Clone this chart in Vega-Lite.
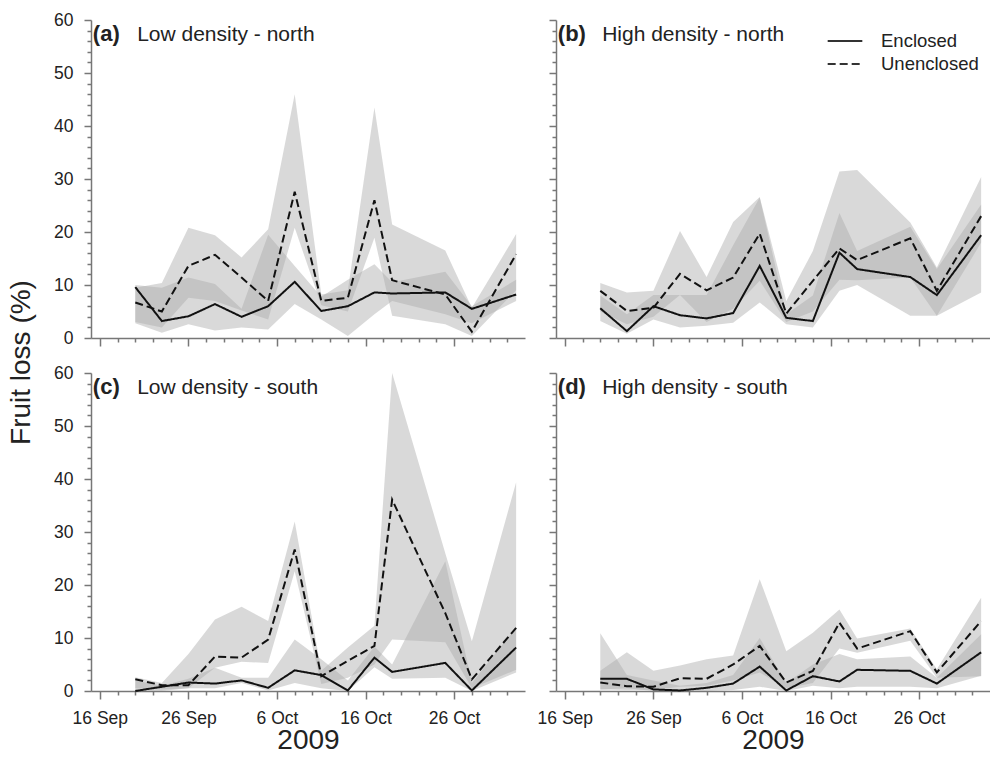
{
  "$schema": "https://vega.github.io/schema/vega-lite/v6.json",
  "padding": {"left": 7, "top": 11, "right": 0, "bottom": 0},
  "background": "white",
  "bounds": "flush",
  "columns": 2,
  "spacing": {"row": 35, "column": 31},
  "datasets": {
    "series": [
      {"p":"a","d":"2009-09-20","g":"Enclosed","v":9.6,"lo":2.8,"hi":10.0},
      {"p":"a","d":"2009-09-23","g":"Enclosed","v":3.2,"lo":1.0,"hi":9.5},
      {"p":"a","d":"2009-09-26","g":"Enclosed","v":4.1,"lo":2.6,"hi":11.4},
      {"p":"a","d":"2009-09-29","g":"Enclosed","v":6.4,"lo":1.4,"hi":10.2},
      {"p":"a","d":"2009-10-02","g":"Enclosed","v":4.0,"lo":2.0,"hi":5.5},
      {"p":"a","d":"2009-10-05","g":"Enclosed","v":6.0,"lo":1.6,"hi":19.5},
      {"p":"a","d":"2009-10-08","g":"Enclosed","v":10.6,"lo":6.4,"hi":13.6},
      {"p":"a","d":"2009-10-11","g":"Enclosed","v":5.1,"lo":3.5,"hi":7.8},
      {"p":"a","d":"2009-10-14","g":"Enclosed","v":6.0,"lo":0.4,"hi":11.0},
      {"p":"a","d":"2009-10-17","g":"Enclosed","v":8.6,"lo":4.5,"hi":13.9},
      {"p":"a","d":"2009-10-19","g":"Enclosed","v":8.4,"lo":7.0,"hi":10.5},
      {"p":"a","d":"2009-10-25","g":"Enclosed","v":8.6,"lo":4.5,"hi":12.5},
      {"p":"a","d":"2009-10-28","g":"Enclosed","v":5.5,"lo":2.8,"hi":6.0},
      {"p":"a","d":"2009-11-02","g":"Enclosed","v":8.2,"lo":7.0,"hi":11.0},
      {"p":"a","d":"2009-09-20","g":"Unenclosed","v":6.7,"lo":3.0,"hi":9.5},
      {"p":"a","d":"2009-09-23","g":"Unenclosed","v":5.0,"lo":2.0,"hi":10.4},
      {"p":"a","d":"2009-09-26","g":"Unenclosed","v":13.6,"lo":7.6,"hi":20.8},
      {"p":"a","d":"2009-09-29","g":"Unenclosed","v":15.7,"lo":7.0,"hi":19.4},
      {"p":"a","d":"2009-10-02","g":"Unenclosed","v":11.4,"lo":5.2,"hi":15.2},
      {"p":"a","d":"2009-10-05","g":"Unenclosed","v":7.0,"lo":3.5,"hi":20.5},
      {"p":"a","d":"2009-10-08","g":"Unenclosed","v":27.6,"lo":20.8,"hi":46.0},
      {"p":"a","d":"2009-10-11","g":"Unenclosed","v":7.0,"lo":6.2,"hi":8.2},
      {"p":"a","d":"2009-10-14","g":"Unenclosed","v":7.6,"lo":5.0,"hi":9.0},
      {"p":"a","d":"2009-10-17","g":"Unenclosed","v":26.0,"lo":18.9,"hi":43.5},
      {"p":"a","d":"2009-10-19","g":"Unenclosed","v":10.9,"lo":4.2,"hi":21.4},
      {"p":"a","d":"2009-10-25","g":"Unenclosed","v":8.2,"lo":2.6,"hi":16.5},
      {"p":"a","d":"2009-10-28","g":"Unenclosed","v":1.2,"lo":0.4,"hi":5.7},
      {"p":"a","d":"2009-11-02","g":"Unenclosed","v":15.8,"lo":9.0,"hi":19.6},
      {"p":"b","d":"2009-09-20","g":"Enclosed","v":5.6,"lo":3.2,"hi":8.0},
      {"p":"b","d":"2009-09-23","g":"Enclosed","v":1.3,"lo":0.8,"hi":4.5},
      {"p":"b","d":"2009-09-26","g":"Enclosed","v":6.0,"lo":3.5,"hi":8.1},
      {"p":"b","d":"2009-09-29","g":"Enclosed","v":4.3,"lo":2.0,"hi":8.1},
      {"p":"b","d":"2009-10-02","g":"Enclosed","v":3.7,"lo":2.3,"hi":8.1},
      {"p":"b","d":"2009-10-05","g":"Enclosed","v":4.7,"lo":2.9,"hi":17.5},
      {"p":"b","d":"2009-10-08","g":"Enclosed","v":13.6,"lo":6.7,"hi":26.5},
      {"p":"b","d":"2009-10-11","g":"Enclosed","v":3.8,"lo":2.6,"hi":4.5},
      {"p":"b","d":"2009-10-14","g":"Enclosed","v":3.2,"lo":2.0,"hi":8.0},
      {"p":"b","d":"2009-10-17","g":"Enclosed","v":16.1,"lo":8.9,"hi":23.6},
      {"p":"b","d":"2009-10-19","g":"Enclosed","v":13.0,"lo":10.0,"hi":16.4},
      {"p":"b","d":"2009-10-25","g":"Enclosed","v":11.5,"lo":4.2,"hi":21.0},
      {"p":"b","d":"2009-10-28","g":"Enclosed","v":8.1,"lo":4.2,"hi":13.0},
      {"p":"b","d":"2009-11-02","g":"Enclosed","v":19.4,"lo":8.6,"hi":25.2},
      {"p":"b","d":"2009-09-20","g":"Unenclosed","v":8.9,"lo":5.0,"hi":10.4},
      {"p":"b","d":"2009-09-23","g":"Unenclosed","v":5.1,"lo":2.6,"hi":8.6},
      {"p":"b","d":"2009-09-26","g":"Unenclosed","v":5.7,"lo":4.0,"hi":8.9},
      {"p":"b","d":"2009-09-29","g":"Unenclosed","v":12.1,"lo":8.1,"hi":20.2},
      {"p":"b","d":"2009-10-02","g":"Unenclosed","v":9.0,"lo":3.0,"hi":11.5},
      {"p":"b","d":"2009-10-05","g":"Unenclosed","v":11.4,"lo":5.5,"hi":21.9},
      {"p":"b","d":"2009-10-08","g":"Unenclosed","v":19.7,"lo":10.8,"hi":26.6},
      {"p":"b","d":"2009-10-11","g":"Unenclosed","v":4.6,"lo":3.0,"hi":7.0},
      {"p":"b","d":"2009-10-14","g":"Unenclosed","v":10.8,"lo":5.0,"hi":16.4},
      {"p":"b","d":"2009-10-17","g":"Unenclosed","v":16.9,"lo":11.0,"hi":31.4},
      {"p":"b","d":"2009-10-19","g":"Unenclosed","v":14.7,"lo":10.9,"hi":31.7},
      {"p":"b","d":"2009-10-25","g":"Unenclosed","v":18.8,"lo":11.4,"hi":21.8},
      {"p":"b","d":"2009-10-28","g":"Unenclosed","v":8.9,"lo":4.2,"hi":13.3},
      {"p":"b","d":"2009-11-02","g":"Unenclosed","v":23.0,"lo":18.0,"hi":30.4},
      {"p":"c","d":"2009-09-20","g":"Enclosed","v":0.0,"lo":0.0,"hi":2.0},
      {"p":"c","d":"2009-09-23","g":"Enclosed","v":0.8,"lo":0.0,"hi":1.0},
      {"p":"c","d":"2009-09-26","g":"Enclosed","v":1.6,"lo":0.5,"hi":2.3},
      {"p":"c","d":"2009-09-29","g":"Enclosed","v":1.4,"lo":0.5,"hi":4.4},
      {"p":"c","d":"2009-10-02","g":"Enclosed","v":2.0,"lo":1.5,"hi":2.5},
      {"p":"c","d":"2009-10-05","g":"Enclosed","v":0.6,"lo":0.1,"hi":2.5},
      {"p":"c","d":"2009-10-08","g":"Enclosed","v":3.9,"lo":1.5,"hi":9.7},
      {"p":"c","d":"2009-10-11","g":"Enclosed","v":3.0,"lo":0.5,"hi":6.0},
      {"p":"c","d":"2009-10-14","g":"Enclosed","v":0.1,"lo":0.0,"hi":2.0},
      {"p":"c","d":"2009-10-17","g":"Enclosed","v":6.3,"lo":4.5,"hi":8.4},
      {"p":"c","d":"2009-10-19","g":"Enclosed","v":3.6,"lo":2.3,"hi":5.0},
      {"p":"c","d":"2009-10-25","g":"Enclosed","v":5.3,"lo":2.5,"hi":24.5},
      {"p":"c","d":"2009-10-28","g":"Enclosed","v":0.1,"lo":0.0,"hi":1.5},
      {"p":"c","d":"2009-11-02","g":"Enclosed","v":8.2,"lo":3.5,"hi":12.0},
      {"p":"c","d":"2009-09-20","g":"Unenclosed","v":2.2,"lo":0.5,"hi":2.6},
      {"p":"c","d":"2009-09-23","g":"Unenclosed","v":1.1,"lo":0.3,"hi":1.5},
      {"p":"c","d":"2009-09-26","g":"Unenclosed","v":1.1,"lo":0.5,"hi":7.0},
      {"p":"c","d":"2009-09-29","g":"Unenclosed","v":6.5,"lo":4.4,"hi":13.5},
      {"p":"c","d":"2009-10-02","g":"Unenclosed","v":6.3,"lo":5.5,"hi":15.9},
      {"p":"c","d":"2009-10-05","g":"Unenclosed","v":9.7,"lo":5.3,"hi":13.2},
      {"p":"c","d":"2009-10-08","g":"Unenclosed","v":26.7,"lo":22.6,"hi":32.0},
      {"p":"c","d":"2009-10-11","g":"Unenclosed","v":2.8,"lo":1.3,"hi":3.8},
      {"p":"c","d":"2009-10-14","g":"Unenclosed","v":5.7,"lo":2.5,"hi":8.2},
      {"p":"c","d":"2009-10-17","g":"Unenclosed","v":8.5,"lo":5.0,"hi":12.3},
      {"p":"c","d":"2009-10-19","g":"Unenclosed","v":36.1,"lo":9.7,"hi":60.0},
      {"p":"c","d":"2009-10-25","g":"Unenclosed","v":14.7,"lo":9.2,"hi":26.0},
      {"p":"c","d":"2009-10-28","g":"Unenclosed","v":2.2,"lo":0.5,"hi":9.4},
      {"p":"c","d":"2009-11-02","g":"Unenclosed","v":11.9,"lo":4.0,"hi":39.4},
      {"p":"d","d":"2009-09-20","g":"Enclosed","v":2.3,"lo":0.3,"hi":10.9},
      {"p":"d","d":"2009-09-23","g":"Enclosed","v":2.3,"lo":0.5,"hi":3.0},
      {"p":"d","d":"2009-09-26","g":"Enclosed","v":0.3,"lo":0.0,"hi":2.0},
      {"p":"d","d":"2009-09-29","g":"Enclosed","v":0.1,"lo":0.0,"hi":1.0},
      {"p":"d","d":"2009-10-02","g":"Enclosed","v":0.6,"lo":0.0,"hi":1.5},
      {"p":"d","d":"2009-10-05","g":"Enclosed","v":1.4,"lo":0.2,"hi":3.0},
      {"p":"d","d":"2009-10-08","g":"Enclosed","v":4.6,"lo":0.8,"hi":10.0},
      {"p":"d","d":"2009-10-11","g":"Enclosed","v":0.1,"lo":0.0,"hi":1.5},
      {"p":"d","d":"2009-10-14","g":"Enclosed","v":2.8,"lo":1.0,"hi":5.0},
      {"p":"d","d":"2009-10-17","g":"Enclosed","v":1.8,"lo":0.5,"hi":7.0},
      {"p":"d","d":"2009-10-19","g":"Enclosed","v":4.0,"lo":0.8,"hi":6.0},
      {"p":"d","d":"2009-10-25","g":"Enclosed","v":3.8,"lo":0.8,"hi":6.5},
      {"p":"d","d":"2009-10-28","g":"Enclosed","v":1.4,"lo":0.5,"hi":2.5},
      {"p":"d","d":"2009-11-02","g":"Enclosed","v":7.3,"lo":2.9,"hi":10.7},
      {"p":"d","d":"2009-09-20","g":"Unenclosed","v":1.6,"lo":0.3,"hi":3.8},
      {"p":"d","d":"2009-09-23","g":"Unenclosed","v":0.9,"lo":0.2,"hi":7.3},
      {"p":"d","d":"2009-09-26","g":"Unenclosed","v":0.8,"lo":0.2,"hi":3.8},
      {"p":"d","d":"2009-09-29","g":"Unenclosed","v":2.4,"lo":0.8,"hi":4.8},
      {"p":"d","d":"2009-10-02","g":"Unenclosed","v":2.3,"lo":1.0,"hi":6.0},
      {"p":"d","d":"2009-10-05","g":"Unenclosed","v":5.0,"lo":2.0,"hi":6.7},
      {"p":"d","d":"2009-10-08","g":"Unenclosed","v":8.5,"lo":3.5,"hi":21.1},
      {"p":"d","d":"2009-10-11","g":"Unenclosed","v":1.6,"lo":0.5,"hi":7.5},
      {"p":"d","d":"2009-10-14","g":"Unenclosed","v":3.8,"lo":1.5,"hi":11.0},
      {"p":"d","d":"2009-10-17","g":"Unenclosed","v":12.9,"lo":8.0,"hi":15.4},
      {"p":"d","d":"2009-10-19","g":"Unenclosed","v":8.0,"lo":7.2,"hi":9.9},
      {"p":"d","d":"2009-10-25","g":"Unenclosed","v":11.3,"lo":9.5,"hi":11.8},
      {"p":"d","d":"2009-10-28","g":"Unenclosed","v":3.5,"lo":2.5,"hi":4.1},
      {"p":"d","d":"2009-11-02","g":"Unenclosed","v":13.2,"lo":2.8,"hi":17.6}
    ],
    "labels": [
      {"p":"a","tag":"(a)","name":"Low density - north"},
      {"p":"b","tag":"(b)","name":"High density - north"},
      {"p":"c","tag":"(c)","name":"Low density - south"},
      {"p":"d","tag":"(d)","name":"High density - south"}
    ]
  },
  "resolve": {"scale": {"strokeDash": "independent"}, "legend": {"strokeDash": "independent"}},
  "concat": [
    {
      "width": 434, "height": 318,
      "resolve": {"axis": {"x": "independent", "y": "independent"}},
      "layer": [
        {"data":{"name":"series"},"transform":[{"filter":"datum.p === 'a'"}],
          "mark":{"type":"area","fill":"#aaaaaa","opacity":0.45},
          "encoding":{
            "x":{"field":"d","type":"temporal","scale":{"type":"utc","domain":[{"year":2009,"month":9,"date":15,"utc":true},{"year":2009,"month":11,"date":3,"utc":true}]},
              "axis":{"orient":"bottom","labels":false,"title":null,"tickSize":8,
                "values":[{"year":2009,"month":9,"date":16,"utc":true},{"year":2009,"month":9,"date":26,"utc":true},{"year":2009,"month":10,"date":6,"utc":true},{"year":2009,"month":10,"date":16,"utc":true},{"year":2009,"month":10,"date":26,"utc":true}]}},
            "y":{"field":"lo","type":"quantitative","scale":{"domain":[0,60]},
              "axis":{"orient":"left","values":[0,10,20,30,40,50,60],"tickSize":7,
                "title":"Fruit loss (%)","titleFontSize":28,"titleX":-62,"titleY":342,"titleAngle":-90,"titleAlign":"center","titleBaseline":"alphabetic"}},
            "y2":{"field":"hi"},"detail":{"field":"g"}}},
        {"data":{"name":"series"},"transform":[{"filter":"datum.p === 'a'"}],
          "mark":{"type":"line","color":"#111111","strokeWidth":2},
          "encoding":{
            "x":{"field":"d","type":"temporal","scale":{"type":"utc","domain":[{"year":2009,"month":9,"date":15,"utc":true},{"year":2009,"month":11,"date":3,"utc":true}]},
              "axis":{"orient":"bottom","labels":false,"title":null,"tickSize":4,"domain":false,
                "values":[{"year":2009,"month":9,"date":18,"utc":true},{"year":2009,"month":9,"date":20,"utc":true},{"year":2009,"month":9,"date":22,"utc":true},{"year":2009,"month":9,"date":24,"utc":true},{"year":2009,"month":9,"date":28,"utc":true},{"year":2009,"month":9,"date":30,"utc":true},{"year":2009,"month":10,"date":2,"utc":true},{"year":2009,"month":10,"date":4,"utc":true},{"year":2009,"month":10,"date":8,"utc":true},{"year":2009,"month":10,"date":10,"utc":true},{"year":2009,"month":10,"date":12,"utc":true},{"year":2009,"month":10,"date":14,"utc":true},{"year":2009,"month":10,"date":18,"utc":true},{"year":2009,"month":10,"date":20,"utc":true},{"year":2009,"month":10,"date":22,"utc":true},{"year":2009,"month":10,"date":24,"utc":true},{"year":2009,"month":10,"date":28,"utc":true},{"year":2009,"month":10,"date":30,"utc":true},{"year":2009,"month":11,"date":1,"utc":true}]}},
            "y":{"field":"v","type":"quantitative","scale":{"domain":[0,60]},
              "axis":{"orient":"left","labels":false,"title":null,"tickSize":4,"domain":false,
                "values":[2,4,6,8,12,14,16,18,22,24,26,28,32,34,36,38,42,44,46,48,52,54,56,58]}},
            "strokeDash":{"field":"g","type":"nominal","scale":{"domain":["Enclosed","Unenclosed"],"range":[[1,0],[8,4]]},"legend":null}}},
        {"data":{"name":"labels"},"transform":[{"filter":"datum.p === 'a'"}],
          "mark":{"type":"text","fontSize":22,"fontWeight":"bold","align":"left","baseline":"alphabetic","color":"#222222"},
          "encoding":{"x":{"datum":{"year":2009,"month":9,"date":15,"hours":5,"utc":true},"type":"temporal","scale":{"type":"utc"},"axis":null},"y":{"datum":56,"type":"quantitative","axis":null},"text":{"field":"tag"}}},
        {"data":{"name":"labels"},"transform":[{"filter":"datum.p === 'a'"}],
          "mark":{"type":"text","fontSize":21,"align":"left","baseline":"alphabetic","color":"#222222"},
          "encoding":{"x":{"datum":{"year":2009,"month":9,"date":20,"hours":5,"utc":true},"type":"temporal","scale":{"type":"utc"},"axis":null},"y":{"datum":56,"type":"quantitative","axis":null},"text":{"field":"name"}}}
      ]
    },
    {
      "width": 434, "height": 318,
      "resolve": {"axis": {"x": "independent", "y": "independent"}},
      "layer": [
        {"data":{"name":"series"},"transform":[{"filter":"datum.p === 'b'"}],
          "mark":{"type":"area","fill":"#aaaaaa","opacity":0.45},
          "encoding":{
            "x":{"field":"d","type":"temporal","scale":{"type":"utc","domain":[{"year":2009,"month":9,"date":15,"utc":true},{"year":2009,"month":11,"date":3,"utc":true}]},
              "axis":{"orient":"bottom","labels":false,"title":null,"tickSize":8,
                "values":[{"year":2009,"month":9,"date":16,"utc":true},{"year":2009,"month":9,"date":26,"utc":true},{"year":2009,"month":10,"date":6,"utc":true},{"year":2009,"month":10,"date":16,"utc":true},{"year":2009,"month":10,"date":26,"utc":true}]}},
            "y":{"field":"lo","type":"quantitative","scale":{"domain":[0,60]},
              "axis":{"orient":"left","values":[0,10,20,30,40,50,60],"tickSize":7,"labels":false,"title":null}},
            "y2":{"field":"hi"},"detail":{"field":"g"}}},
        {"data":{"name":"series"},"transform":[{"filter":"datum.p === 'b'"}],
          "mark":{"type":"line","color":"#111111","strokeWidth":2},
          "encoding":{
            "x":{"field":"d","type":"temporal","scale":{"type":"utc","domain":[{"year":2009,"month":9,"date":15,"utc":true},{"year":2009,"month":11,"date":3,"utc":true}]},
              "axis":{"orient":"bottom","labels":false,"title":null,"tickSize":4,"domain":false,
                "values":[{"year":2009,"month":9,"date":18,"utc":true},{"year":2009,"month":9,"date":20,"utc":true},{"year":2009,"month":9,"date":22,"utc":true},{"year":2009,"month":9,"date":24,"utc":true},{"year":2009,"month":9,"date":28,"utc":true},{"year":2009,"month":9,"date":30,"utc":true},{"year":2009,"month":10,"date":2,"utc":true},{"year":2009,"month":10,"date":4,"utc":true},{"year":2009,"month":10,"date":8,"utc":true},{"year":2009,"month":10,"date":10,"utc":true},{"year":2009,"month":10,"date":12,"utc":true},{"year":2009,"month":10,"date":14,"utc":true},{"year":2009,"month":10,"date":18,"utc":true},{"year":2009,"month":10,"date":20,"utc":true},{"year":2009,"month":10,"date":22,"utc":true},{"year":2009,"month":10,"date":24,"utc":true},{"year":2009,"month":10,"date":28,"utc":true},{"year":2009,"month":10,"date":30,"utc":true},{"year":2009,"month":11,"date":1,"utc":true}]}},
            "y":{"field":"v","type":"quantitative","scale":{"domain":[0,60]},
              "axis":{"orient":"left","labels":false,"title":null,"tickSize":4,"domain":false,
                "values":[2,4,6,8,12,14,16,18,22,24,26,28,32,34,36,38,42,44,46,48,52,54,56,58]}},
            "strokeDash":{"field":"g","type":"nominal","scale":{"domain":["Enclosed","Unenclosed"],"range":[[1,0],[8,4]]},
              "legend":{"orient":"top-right","offset":11,"padding":0,"title":null,"symbolType":"M-2,0L2,0","symbolSize":300,"symbolStrokeWidth":2,"symbolStrokeColor":"#333333","labelFont":"Liberation Sans","labelFontSize":18.5,"labelColor":"#222222","labelOffset":26,"rowPadding":3}}}},
        {"data":{"name":"labels"},"transform":[{"filter":"datum.p === 'b'"}],
          "mark":{"type":"text","fontSize":22,"fontWeight":"bold","align":"left","baseline":"alphabetic","color":"#222222"},
          "encoding":{"x":{"datum":{"year":2009,"month":9,"date":15,"hours":5,"utc":true},"type":"temporal","scale":{"type":"utc"},"axis":null},"y":{"datum":56,"type":"quantitative","axis":null},"text":{"field":"tag"}}},
        {"data":{"name":"labels"},"transform":[{"filter":"datum.p === 'b'"}],
          "mark":{"type":"text","fontSize":21,"align":"left","baseline":"alphabetic","color":"#222222"},
          "encoding":{"x":{"datum":{"year":2009,"month":9,"date":20,"hours":5,"utc":true},"type":"temporal","scale":{"type":"utc"},"axis":null},"y":{"datum":56,"type":"quantitative","axis":null},"text":{"field":"name"}}}
      ]
    },
    {
      "width": 434, "height": 318,
      "resolve": {"axis": {"x": "independent", "y": "independent"}},
      "layer": [
        {"data":{"name":"series"},"transform":[{"filter":"datum.p === 'c'"}],
          "mark":{"type":"area","fill":"#aaaaaa","opacity":0.45},
          "encoding":{
            "x":{"field":"d","type":"temporal","scale":{"type":"utc","domain":[{"year":2009,"month":9,"date":15,"utc":true},{"year":2009,"month":11,"date":3,"utc":true}]},
              "axis":{"orient":"bottom","tickSize":8,"labelExpr":"utcFormat(datum.value, '%-d %b')","title":"2009","titleFontSize":28,"titlePadding":0,
                "values":[{"year":2009,"month":9,"date":16,"utc":true},{"year":2009,"month":9,"date":26,"utc":true},{"year":2009,"month":10,"date":6,"utc":true},{"year":2009,"month":10,"date":16,"utc":true},{"year":2009,"month":10,"date":26,"utc":true}]}},
            "y":{"field":"lo","type":"quantitative","scale":{"domain":[0,60]},
              "axis":{"orient":"left","values":[0,10,20,30,40,50,60],"tickSize":7,"title":null}},
            "y2":{"field":"hi"},"detail":{"field":"g"}}},
        {"data":{"name":"series"},"transform":[{"filter":"datum.p === 'c'"}],
          "mark":{"type":"line","color":"#111111","strokeWidth":2},
          "encoding":{
            "x":{"field":"d","type":"temporal","scale":{"type":"utc","domain":[{"year":2009,"month":9,"date":15,"utc":true},{"year":2009,"month":11,"date":3,"utc":true}]},
              "axis":{"orient":"bottom","labels":false,"title":null,"tickSize":4,"domain":false,
                "values":[{"year":2009,"month":9,"date":18,"utc":true},{"year":2009,"month":9,"date":20,"utc":true},{"year":2009,"month":9,"date":22,"utc":true},{"year":2009,"month":9,"date":24,"utc":true},{"year":2009,"month":9,"date":28,"utc":true},{"year":2009,"month":9,"date":30,"utc":true},{"year":2009,"month":10,"date":2,"utc":true},{"year":2009,"month":10,"date":4,"utc":true},{"year":2009,"month":10,"date":8,"utc":true},{"year":2009,"month":10,"date":10,"utc":true},{"year":2009,"month":10,"date":12,"utc":true},{"year":2009,"month":10,"date":14,"utc":true},{"year":2009,"month":10,"date":18,"utc":true},{"year":2009,"month":10,"date":20,"utc":true},{"year":2009,"month":10,"date":22,"utc":true},{"year":2009,"month":10,"date":24,"utc":true},{"year":2009,"month":10,"date":28,"utc":true},{"year":2009,"month":10,"date":30,"utc":true},{"year":2009,"month":11,"date":1,"utc":true}]}},
            "y":{"field":"v","type":"quantitative","scale":{"domain":[0,60]},
              "axis":{"orient":"left","labels":false,"title":null,"tickSize":4,"domain":false,
                "values":[2,4,6,8,12,14,16,18,22,24,26,28,32,34,36,38,42,44,46,48,52,54,56,58]}},
            "strokeDash":{"field":"g","type":"nominal","scale":{"domain":["Enclosed","Unenclosed"],"range":[[1,0],[8,4]]},"legend":null}}},
        {"data":{"name":"labels"},"transform":[{"filter":"datum.p === 'c'"}],
          "mark":{"type":"text","fontSize":22,"fontWeight":"bold","align":"left","baseline":"alphabetic","color":"#222222"},
          "encoding":{"x":{"datum":{"year":2009,"month":9,"date":15,"hours":5,"utc":true},"type":"temporal","scale":{"type":"utc"},"axis":null},"y":{"datum":56,"type":"quantitative","axis":null},"text":{"field":"tag"}}},
        {"data":{"name":"labels"},"transform":[{"filter":"datum.p === 'c'"}],
          "mark":{"type":"text","fontSize":21,"align":"left","baseline":"alphabetic","color":"#222222"},
          "encoding":{"x":{"datum":{"year":2009,"month":9,"date":20,"hours":5,"utc":true},"type":"temporal","scale":{"type":"utc"},"axis":null},"y":{"datum":56,"type":"quantitative","axis":null},"text":{"field":"name"}}}
      ]
    },
    {
      "width": 434, "height": 318,
      "resolve": {"axis": {"x": "independent", "y": "independent"}},
      "layer": [
        {"data":{"name":"series"},"transform":[{"filter":"datum.p === 'd'"}],
          "mark":{"type":"area","fill":"#aaaaaa","opacity":0.45},
          "encoding":{
            "x":{"field":"d","type":"temporal","scale":{"type":"utc","domain":[{"year":2009,"month":9,"date":15,"utc":true},{"year":2009,"month":11,"date":3,"utc":true}]},
              "axis":{"orient":"bottom","tickSize":8,"labelExpr":"utcFormat(datum.value, '%-d %b')","title":"2009","titleFontSize":28,"titlePadding":0,
                "values":[{"year":2009,"month":9,"date":16,"utc":true},{"year":2009,"month":9,"date":26,"utc":true},{"year":2009,"month":10,"date":6,"utc":true},{"year":2009,"month":10,"date":16,"utc":true},{"year":2009,"month":10,"date":26,"utc":true}]}},
            "y":{"field":"lo","type":"quantitative","scale":{"domain":[0,60]},
              "axis":{"orient":"left","values":[0,10,20,30,40,50,60],"tickSize":7,"labels":false,"title":null}},
            "y2":{"field":"hi"},"detail":{"field":"g"}}},
        {"data":{"name":"series"},"transform":[{"filter":"datum.p === 'd'"}],
          "mark":{"type":"line","color":"#111111","strokeWidth":2},
          "encoding":{
            "x":{"field":"d","type":"temporal","scale":{"type":"utc","domain":[{"year":2009,"month":9,"date":15,"utc":true},{"year":2009,"month":11,"date":3,"utc":true}]},
              "axis":{"orient":"bottom","labels":false,"title":null,"tickSize":4,"domain":false,
                "values":[{"year":2009,"month":9,"date":18,"utc":true},{"year":2009,"month":9,"date":20,"utc":true},{"year":2009,"month":9,"date":22,"utc":true},{"year":2009,"month":9,"date":24,"utc":true},{"year":2009,"month":9,"date":28,"utc":true},{"year":2009,"month":9,"date":30,"utc":true},{"year":2009,"month":10,"date":2,"utc":true},{"year":2009,"month":10,"date":4,"utc":true},{"year":2009,"month":10,"date":8,"utc":true},{"year":2009,"month":10,"date":10,"utc":true},{"year":2009,"month":10,"date":12,"utc":true},{"year":2009,"month":10,"date":14,"utc":true},{"year":2009,"month":10,"date":18,"utc":true},{"year":2009,"month":10,"date":20,"utc":true},{"year":2009,"month":10,"date":22,"utc":true},{"year":2009,"month":10,"date":24,"utc":true},{"year":2009,"month":10,"date":28,"utc":true},{"year":2009,"month":10,"date":30,"utc":true},{"year":2009,"month":11,"date":1,"utc":true}]}},
            "y":{"field":"v","type":"quantitative","scale":{"domain":[0,60]},
              "axis":{"orient":"left","labels":false,"title":null,"tickSize":4,"domain":false,
                "values":[2,4,6,8,12,14,16,18,22,24,26,28,32,34,36,38,42,44,46,48,52,54,56,58]}},
            "strokeDash":{"field":"g","type":"nominal","scale":{"domain":["Enclosed","Unenclosed"],"range":[[1,0],[8,4]]},"legend":null}}},
        {"data":{"name":"labels"},"transform":[{"filter":"datum.p === 'd'"}],
          "mark":{"type":"text","fontSize":22,"fontWeight":"bold","align":"left","baseline":"alphabetic","color":"#222222"},
          "encoding":{"x":{"datum":{"year":2009,"month":9,"date":15,"hours":5,"utc":true},"type":"temporal","scale":{"type":"utc"},"axis":null},"y":{"datum":56,"type":"quantitative","axis":null},"text":{"field":"tag"}}},
        {"data":{"name":"labels"},"transform":[{"filter":"datum.p === 'd'"}],
          "mark":{"type":"text","fontSize":21,"align":"left","baseline":"alphabetic","color":"#222222"},
          "encoding":{"x":{"datum":{"year":2009,"month":9,"date":20,"hours":5,"utc":true},"type":"temporal","scale":{"type":"utc"},"axis":null},"y":{"datum":56,"type":"quantitative","axis":null},"text":{"field":"name"}}}
      ]
    }
  ],
  "config": {
    "view": {"stroke": null},
    "font": "Liberation Sans",
    "text": {"font": "Liberation Sans"},
    "axis": {"domainColor":"#777777","tickColor":"#777777","domainWidth":1.5,"tickWidth":1.5,
      "labelFont":"Liberation Sans","labelFontSize":17.5,"labelColor":"#222222",
      "titleFont":"Liberation Sans","titleFontWeight":"normal","titleColor":"#222222",
      "grid":false,"labelOverlap":false,"labelFlush":false,"labelPadding":8},
    "axisX": {"labelPadding": 10},
    "axisY": {"labelPadding": 11}
  }
}
